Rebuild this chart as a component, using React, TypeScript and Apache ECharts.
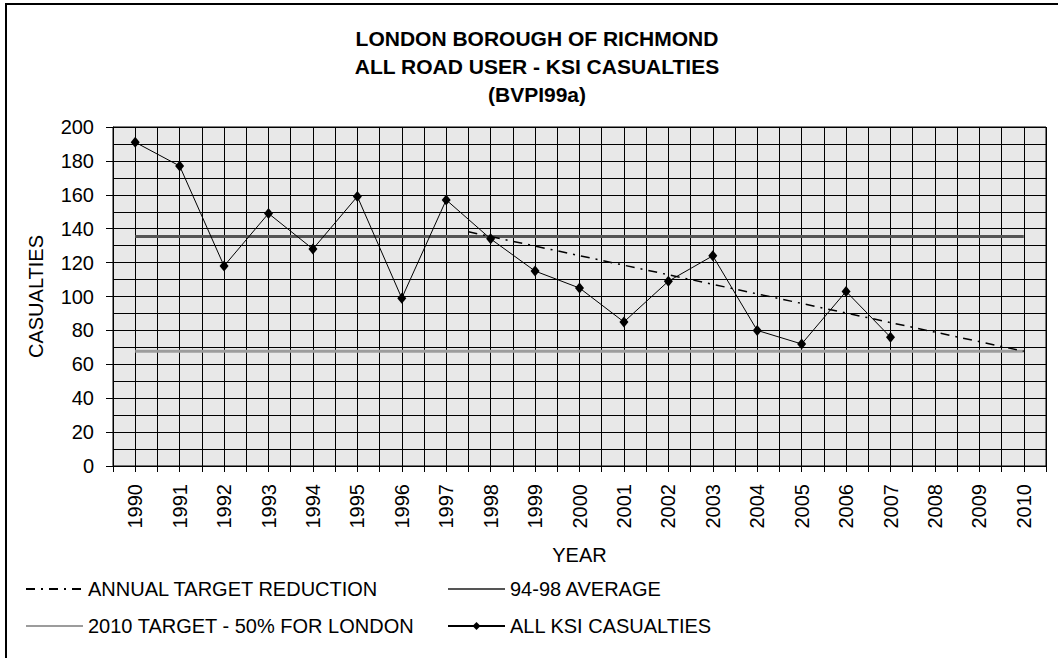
import React, { useEffect, useRef } from "react";
import * as echarts from "echarts";

const titleLines = ["LONDON BOROUGH OF RICHMOND", "ALL ROAD USER - KSI CASUALTIES", "(BVPI99a)"];
const years = [1990, 1991, 1992, 1993, 1994, 1995, 1996, 1997, 1998, 1999, 2000, 2001, 2002, 2003, 2004, 2005, 2006, 2007];
const ksiCasualties = [191, 177, 118, 149, 128, 159, 99, 157, 134, 115, 105, 85, 109, 124, 80, 72, 103, 76];
const averageYears = [1990, 2010];
const average9498 = [135.4, 135.4];
const target2010 = [67.7, 67.7];
const reductionYears = [1997.5, 2010];
const annualTarget = [138.2, 67.7];
const seriesNames = ["ANNUAL TARGET REDUCTION", "94-98 AVERAGE", "2010 TARGET - 50% FOR LONDON", "ALL KSI CASUALTIES"];

const FONT = "'Liberation Sans', Arial, sans-serif";
const CLEAR = "rgba(0,0,0,0)";

function pairs(xs: number[], ys: number[]) {
  return xs.map((x, i) => [x, ys[i]]);
}

export default function App() {
  const ref = useRef<HTMLDivElement>(null);
  useEffect(() => {
    if (!ref.current) return;
    const chart = echarts.init(ref.current, null, { renderer: "svg" });
    const legendBase = {
      orient: "horizontal",
      itemWidth: 57,
      itemHeight: 10,
      padding: 0,
      selectedMode: false,
      textStyle: { fontSize: 20, color: "#000", fontFamily: FONT, lineHeight: 20 },
    };
    chart.setOption({
      animation: false,
      backgroundColor: "#fff",
      textStyle: { fontFamily: FONT },
      graphic: [
        {
          type: "rect",
          shape: { x: 6, y: 4, width: 1100, height: 700 },
          style: { fill: "none", stroke: "#000", lineWidth: 2 },
          silent: true,
        },
        ...titleLines.map((t, i) => ({
          type: "text",
          x: 537,
          y: 38 + i * 28,
          style: {
            text: t,
            fill: "#000",
            font: `bold 21px ${FONT}`,
            textAlign: "center",
            textVerticalAlign: "middle",
          },
        })),
      ],
      legend: [
        { ...legendBase, data: [seriesNames[0]], left: 25, top: 579 },
        { ...legendBase, data: [seriesNames[1]], left: 447, top: 579 },
        { ...legendBase, data: [seriesNames[2]], left: 25, top: 616 },
        { ...legendBase, data: [seriesNames[3]], left: 447, top: 616 },
      ],
      grid: {
        left: 113,
        right: 12,
        top: 127,
        bottom: 192,
        show: true,
        backgroundColor: "#e8e8e8",
        borderColor: "#000",
        borderWidth: 1,
      },
      xAxis: {
        type: "value",
        min: 1989.5,
        max: 2010.5,
        interval: 0.5,
        name: "YEAR",
        nameLocation: "middle",
        nameGap: 79,
        nameTextStyle: { fontSize: 20, color: "#000", fontFamily: FONT },
        axisLine: { show: true, lineStyle: { color: "#000", width: 1 } },
        axisTick: { show: true, inside: false, length: 6, lineStyle: { color: "#000" } },
        axisLabel: {
          rotate: 90,
          margin: 18,
          fontSize: 20,
          color: "#000",
          fontFamily: FONT,
          formatter: (v: number) => (Number.isInteger(v) ? String(v) : ""),
        },
        splitLine: { show: true, lineStyle: { color: "#000", width: 1 } },
      },
      yAxis: {
        type: "value",
        min: 0,
        max: 200,
        interval: 20,
        name: "CASUALTIES",
        nameLocation: "middle",
        nameRotate: 90,
        nameGap: 67,
        nameTextStyle: { fontSize: 20, color: "#000", fontFamily: FONT },
        axisLine: { show: true, lineStyle: { color: "#000", width: 1 } },
        axisTick: { show: true, inside: false, length: 7, lineStyle: { color: "#000" } },
        axisLabel: { margin: 19, fontSize: 20, color: "#000", fontFamily: FONT },
        splitLine: { show: true, lineStyle: { color: "#000", width: 1 } },
        minorTick: { show: false, splitNumber: 2 },
        minorSplitLine: { show: true, lineStyle: { color: "#000", width: 1 } },
      },
      series: [
        {
          name: seriesNames[1],
          type: "line",
          data: pairs(averageYears, average9498),
          symbol: "circle",
          showSymbol: false,
          lineStyle: { color: "#555", width: 3 },
          itemStyle: { color: CLEAR, borderWidth: 0 },
          z: 2,
        },
        {
          name: seriesNames[2],
          type: "line",
          data: pairs(averageYears, target2010),
          symbol: "circle",
          showSymbol: false,
          lineStyle: { color: "#9c9c9c", width: 3 },
          itemStyle: { color: CLEAR, borderWidth: 0 },
          z: 2,
        },
        {
          name: seriesNames[0],
          type: "line",
          data: pairs(reductionYears, annualTarget),
          symbol: "circle",
          showSymbol: false,
          lineStyle: { color: "#000", width: 1.5, type: [9, 6, 2, 6] },
          itemStyle: { color: CLEAR, borderWidth: 0 },
          z: 3,
        },
        {
          name: seriesNames[3],
          type: "line",
          data: pairs(years, ksiCasualties),
          symbol: "diamond",
          symbolSize: [9, 11],
          lineStyle: { color: "#000", width: 1 },
          itemStyle: { color: "#000" },
          z: 4,
        },
      ],
    });
    return () => chart.dispose();
  }, []);
  return (
    <div
      ref={ref}
      style={{ position: "fixed", left: 0, top: 0, width: 1058, height: 658, background: "#fff" }}
    />
  );
}
